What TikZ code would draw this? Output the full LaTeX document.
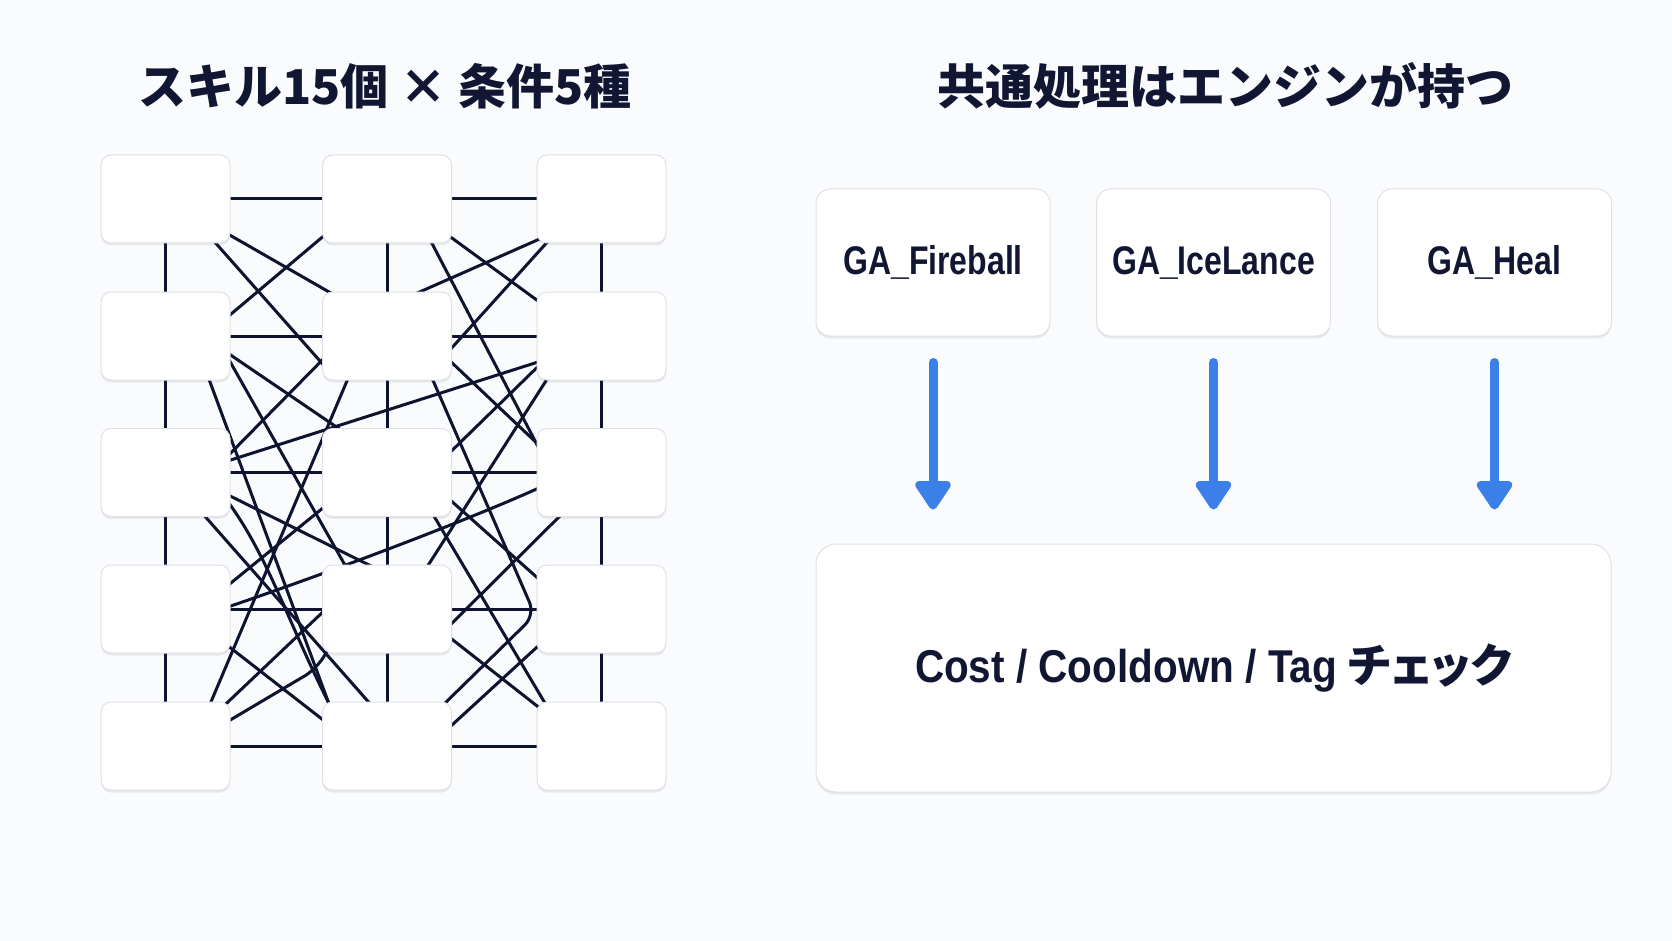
\documentclass[tikz,border=0pt]{standalone}
\usepackage{fontspec}
\setmainfont{Liberation Sans}
\newfontfamily\cjk{Noto Sans CJK JP}
\newfontfamily\cjkp{Noto Sans CJK JP}[RawFeature=+palt]
\newfontfamily\gafont{Liberation Sans}[FakeStretch=0.8]
\newfontfamily\costfont{Liberation Sans}[FakeStretch=0.88]
\usetikzlibrary{calc,arrows.meta,shadows}
\definecolor{bgc}{HTML}{FAFBFC}
\definecolor{ink}{HTML}{111733}
\definecolor{wirec}{HTML}{0E1430}
\definecolor{boxline}{HTML}{DFE1E6}
\definecolor{arrowblue}{HTML}{3A80E8}
\pgfdeclarelayer{back}
\pgfdeclarelayer{wires}
\pgfsetlayers{back,wires,main}
\tikzset{
  softshadow/.style={drop shadow={shadow xshift=0pt,shadow yshift=-2.5pt,opacity=0.10,fill=black!70}},
  gridbox/.style={rounded corners=10pt,fill=white,draw=boxline,line width=1pt,
    minimum width=129pt,minimum height=88pt,inner sep=0pt,softshadow},
  gabox/.style={rounded corners=14pt,fill=white,draw=boxline,line width=1pt,
    minimum width=234pt,minimum height=147pt,inner sep=0pt,softshadow,
    text=ink,font=\gafont\bfseries\fontsize{40}{48}\selectfont},
  engbox/.style={rounded corners=20pt,fill=white,draw=boxline,line width=1pt,
    minimum width=795pt,minimum height=248pt,inner sep=0pt,softshadow,
    text=ink,font=\costfont\bfseries\fontsize{46}{54}\selectfont},
  titletext/.style={text=ink,font=\cjk\bfseries\fontsize{48}{56}\selectfont,inner sep=0pt},
  wire/.style={draw=wirec,line width=3pt,line cap=round},
  flowarrow/.style={draw=arrowblue,line width=9pt,line cap=round,
    -{Triangle[width=40pt,length=32pt,round]}},
}
\begin{document}
\begin{tikzpicture}[x=1pt,y=-1pt]
\begin{pgfonlayer}{back}
\fill[bgc] (0,0) rectangle (1672,941);
\end{pgfonlayer}
\useasboundingbox (0,0) rectangle (1672,941);

% titles
\node[titletext] (t1) at (385,86) {スキル15個 × 条件5種};
\node[titletext] (t2) at (1225,86) {共通処理はエンジンが持つ};

% grid boxes
\foreach \r/\yy in {1/199,2/336,3/472.5,4/609,5/746}{
  \foreach \c/\xx in {1/165.5,2/387,3/601.5}{
    \node[gridbox] (b\r\c) at (\xx,\yy) {};
  }
}

% tangle of wires, under the boxes
\begin{pgfonlayer}{wires}
\foreach \c in {1,2,3} \draw[wire] (b1\c) -- (b5\c);
\foreach \r in {1,2,3,4,5} \draw[wire] (b\r1) -- (b\r3);
% gap between column 1 and column 2
\draw[wire] ($(b11)+(34.5,19)$) -- ($(b22)+(-37,-32)$);
\draw[wire] ($(b11)+(39.5,32)$) -- ($(b22)+(-52,42)$);
\draw[wire] ($(b12)+(-42,19)$) -- ($(b21)+(39.5,0)$);
\draw[wire] ($(b21)+(44.5,5)$) -- ($(b32)+(-27,-29.5)$);
\draw[wire] ($(b22)+(-47,6)$) -- ($(b31)+(49.5,-3.5)$);
\draw[wire] ($(b21)+(49.5,-1)$) -- ($(b42)+(-37,-35)$);
\draw[wire] ($(b21)+(37.5,27)$) -- ($(b52)+(-55,-34)$);
\draw[wire] ($(b22)+(-32,26)$) -- ($(b51)+(39.5,-30)$);
\draw[wire] ($(b23)+(-41.5,19)$) -- ($(b31)+(49.5,-7.5)$);
\draw[wire] ($(b31)+(44.5,13.5)$) -- ($(b42)+(-12,-41)$);
\draw[wire] ($(b31)+(44.5,7.5)$) .. controls +(55,60) and +(-50,-95) .. ($(b52)+(-52,-31)$);
\draw[wire] ($(b31)+(29.5,32.5)$) -- ($(b52)+(-7,-31)$);
\draw[wire] ($(b41)+(44.5,-9)$) -- ($(b32)+(-42,17.5)$);
\draw[wire] ($(b41)+(44.5,4)$) .. controls +(120,-40) and +(-60,30) .. ($(b33)+(-41.5,5.5)$);
\draw[wire] ($(b41)+(39.5,19)$) -- ($(b52)+(-42,-9)$);
\draw[wire] ($(b51)+(44.5,-27)$) -- ($(b42)+(-42,-18)$);
\draw[wire,rounded corners=15pt] ($(b51)+(44.5,-14)$) -- ($(b42)+(-69,59)$) -- ($(b42)+(-57,36)$);
% gap between column 2 and column 3
\draw[wire] ($(b12)+(43,23)$) -- ($(b23)+(-41.5,-19)$);
\draw[wire] ($(b13)+(-41.5,31)$) -- ($(b22)+(28,-42)$);
\draw[wire] ($(b12)+(38,31)$) -- ($(b33)+(-56.5,-12.5)$);
\draw[wire] ($(b13)+(-41.5,29)$) -- ($(b22)+(43,36)$);
\draw[wire] ($(b22)+(43,6)$) -- ($(b33)+(-41.5,-7.5)$);
\draw[wire] ($(b23)+(-41.5,9)$) -- ($(b32)+(43,-0.5)$);
\draw[wire,rounded corners=14pt] ($(b22)+(38,26)$) -- ($(b43)+(-66.5,6)$) -- ($(b52)+(53,-38)$);
\draw[wire] ($(b23)+(-43.5,26)$) -- ($(b42)+(33,-31)$);
\draw[wire] ($(b32)+(43,9.5)$) -- ($(b43)+(-41.5,-11)$);
\draw[wire] ($(b32)+(38,28.5)$) -- ($(b53)+(-46.5,-26)$);
\draw[wire] ($(b33)+(-31.5,33.5)$) -- ($(b42)+(43,36)$);
\draw[wire] ($(b42)+(43,13)$) -- ($(b53)+(-41.5,-22)$);
\draw[wire] ($(b43)+(-41.5,17)$) -- ($(b52)+(53,-10)$);
\end{pgfonlayer}

% right side
\node[gabox] (g1) at (933,262.5) {GA\_Fireball};
\node[gabox] (g2) at (1213.5,262.5) {GA\_IceLance};
\node[gabox] (g3) at (1494.5,262.5) {GA\_Heal};
\node[engbox] (eng) at (1213.5,668) {Cost / Cooldown / Tag {\cjkp\bfseries チェック}};

\foreach \g in {g1,g2,g3}
  \draw[flowarrow,shorten <=26pt,shorten >=34pt] (\g.south) -- (\g.south |- eng.north);
\end{tikzpicture}
\end{document}
